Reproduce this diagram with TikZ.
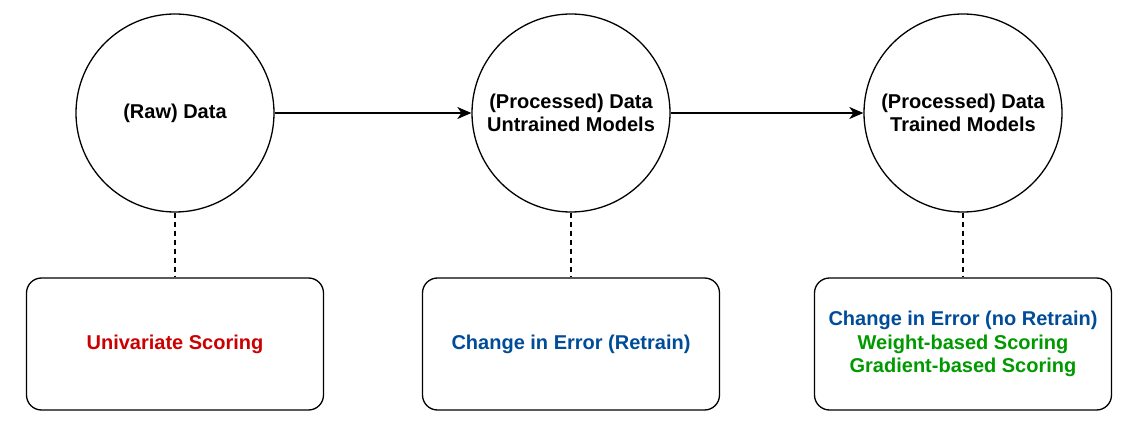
\documentclass[tikz,border=0pt]{standalone}
\usepackage{fontspec}
\setmainfont{Liberation Sans}
\usetikzlibrary{arrows.meta}
\definecolor{cred}{HTML}{CC0000}
\definecolor{cblue}{HTML}{004C99}
\definecolor{cgreen}{HTML}{009900}
\tikzset{
  stage/.style={circle, draw=black, line width=1.3pt, minimum size=198pt, inner sep=0pt, align=center, font=\bfseries\fontsize{20}{23.5}\selectfont},
  method/.style={draw=black, line width=1.3pt, rounded corners=15pt, minimum width=297pt, minimum height=132pt, inner sep=0pt, align=center, font=\bfseries\fontsize{20}{23.5}\selectfont},
  flow/.style={line width=1.3pt, -{Stealth[length=14pt, width=12pt, inset=4pt]}},
  link/.style={line width=1.3pt, dash pattern=on 5pt off 4pt}
}
\begin{document}
\begin{tikzpicture}[x=1pt, y=-1pt]
\useasboundingbox (0,0) rectangle (1138,433);
\node[stage] (raw) at (175,113) {(Raw) Data};
\node[stage] (proc) at (571,113) {(Processed) Data\\Untrained Models};
\node[stage] (trained) at (963,113) {(Processed) Data\\Trained Models};
\node[method] (uni) at (175,344) {\textcolor{cred}{Univariate Scoring}};
\node[method] (retrain) at (571,344) {\textcolor{cblue}{Change in Error (Retrain)}};
\node[method] (noretrain) at (963,344) {\textcolor{cblue}{Change in Error (no Retrain)}\\\textcolor{cgreen}{Weight-based Scoring}\\\textcolor{cgreen}{Gradient-based Scoring}};
\draw[flow] (raw) -- (proc);
\draw[flow] (proc) -- (trained);
\draw[link] (raw.south) -- (uni.north);
\draw[link] (proc.south) -- (retrain.north);
\draw[link] (trained.south) -- (noretrain.north);
\end{tikzpicture}
\end{document}
